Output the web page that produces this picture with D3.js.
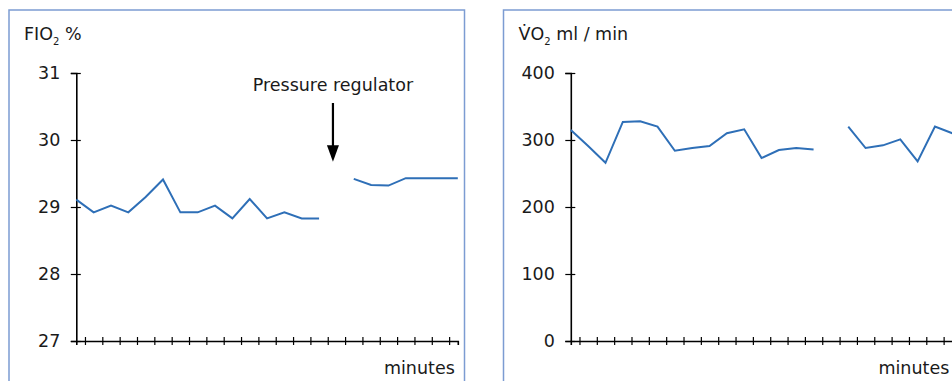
<!DOCTYPE html>
<html>
<head>
<meta charset="utf-8">
<script src="https://cdn.jsdelivr.net/npm/d3@7"></script>
<style>
  html, body { margin: 0; padding: 0; background: #fff; }
  svg { display: block; }
  text { font-family: "DejaVu Sans", sans-serif; fill: #1a1a1a; }
</style>
</head>
<body>
<svg id="chart" width="952" height="381"></svg>
<script>
// Sample index (one reading per minute)
const minutes = [0, 1, 2, 3, 4, 5, 6, 7, 8, 9, 10, 11, 12, 13, 14, 15, 16, 17, 18, 19, 20, 21, 22];

// Inspired oxygen fraction, %; null = no reading while the regulator was switched
const fio2 = [29.11, 28.92, 29.02, 28.92, 29.15, 29.41, 28.92, 28.92, 29.02, 28.83, 29.12, 28.83,
              28.92, 28.83, 28.83, null, 29.42, 29.33, 29.32, 29.43, 29.43, 29.43, 29.43];

// Oxygen consumption, ml/min
const vo2 = [315, 291, 266, 327, 328, 320, 284, 288, 291, 310, 316, 273,
             285, 288, 286, null, 320, 288, 292, 301, 268, 320, 310];

const fio2Ticks = [27, 28, 29, 30, 31];
const vo2Ticks = [0, 100, 200, 300, 400];
const minuteTicks = [0.5, 1.5, 2.5, 3.5, 4.5, 5.5, 6.5, 7.5, 8.5, 9.5, 10.5,
                     11.5, 12.5, 13.5, 14.5, 15.5, 16.5, 17.5, 18.5, 19.5, 20.5, 21.5];

const regulatorMinute = 14.8;
const regulatorLabel = "Pressure regulator";

const svg = d3.select("#chart");
const lineColor = "#2e6fb7";
const frameColor = "#7c9cd2";
const fontSize = 17.5;

// Panel geometry (shared by both charts)
const panelW = 455.5, panelTop = 10;
const plot = { left: 67.3, top: 73, width: 381.5, height: 268 };

function drawPanel(px, cfg) {
  const g = svg.append("g").attr("transform", `translate(${px},0)`);

  g.append("rect")
    .attr("x", 0).attr("y", panelTop)
    .attr("width", panelW).attr("height", 420)
    .attr("fill", "none").attr("stroke", frameColor).attr("stroke-width", 1.5);

  const p = g.append("g").attr("transform", `translate(${plot.left},${plot.top})`);

  const x = d3.scaleLinear().domain([0, 22]).range([0, plot.width]);
  const y = d3.scaleLinear().domain(cfg.yDomain).range([plot.height, 0]);

  // Y axis: ticks cross the axis line
  const yAxis = p.append("g")
    .call(d3.axisLeft(y).tickValues(cfg.yTicks).tickFormat(d3.format("d"))
      .tickSizeOuter(0).tickSize(5.5).tickPadding(10.5));
  yAxis.select(".domain").attr("stroke", "#000").attr("stroke-width", 1.6);
  yAxis.selectAll(".tick line").attr("x2", -5.5).attr("x1", 4.5).attr("stroke", "#000").attr("stroke-width", 1.2);
  yAxis.selectAll(".tick text")
    .style("font-family", '"DejaVu Sans", sans-serif')
    .style("font-size", fontSize + "px").attr("fill", "#1a1a1a");

  // X axis: minute ticks cross the axis line
  const xAxis = p.append("g").attr("transform", `translate(0,${plot.height})`)
    .call(d3.axisBottom(x).tickValues(minuteTicks).tickSizeOuter(0).tickSize(4).tickFormat(""));
  xAxis.select(".domain").attr("stroke", "#000").attr("stroke-width", 1.6);
  xAxis.selectAll(".tick line").attr("y1", -4).attr("y2", 4).attr("stroke", "#000").attr("stroke-width", 1.2);

  p.append("text")
    .attr("x", plot.width - 3).attr("y", plot.height + 33)
    .attr("text-anchor", "end")
    .style("font-size", fontSize + "px")
    .text("minutes");

  // Measurement trace, broken where readings are missing
  const line = d3.line()
    .defined((d, i) => cfg.values[i] != null)
    .x(d => x(d))
    .y((d, i) => y(cfg.values[i]));
  p.append("path")
    .datum(minutes)
    .attr("d", line)
    .attr("fill", "none")
    .attr("stroke", lineColor)
    .attr("stroke-width", 2)
    .attr("stroke-linejoin", "miter");

  // Panel title with subscript
  const t = g.append("text").attr("x", 15).attr("y", 40).style("font-size", fontSize + "px");
  t.append("tspan").text(cfg.titleMain);
  t.append("tspan").attr("dy", 5).style("font-size", "10px").text("2");
  t.append("tspan").attr("dy", -5).text(cfg.titleUnit);

  return { g, p, x, y };
}

const left = drawPanel(9, {
  yDomain: [27, 31], yTicks: fio2Ticks, values: fio2,
  titleMain: "FIO", titleUnit: " %"
});

drawPanel(503.5, {
  yDomain: [0, 400], yTicks: vo2Ticks, values: vo2,
  titleMain: "V\u0307O", titleUnit: " ml / min"
});

// Annotation: pressure regulator switch
const ax = left.x(regulatorMinute);
const arrowTop = 30, arrowTip = 88.7;
left.p.append("line")
  .attr("x1", ax).attr("x2", ax)
  .attr("y1", arrowTop).attr("y2", arrowTip - 14)
  .attr("stroke", "#000").attr("stroke-width", 2.2);
left.p.append("path")
  .attr("d", d3.line()([[ax - 6, arrowTip - 16.5], [ax + 6, arrowTip - 16.5], [ax, arrowTip]]) + "Z")
  .attr("fill", "#000");
left.p.append("text")
  .attr("x", ax).attr("y", arrowTop - 12)
  .attr("text-anchor", "middle")
  .style("font-size", fontSize + "px")
  .text(regulatorLabel);
</script>
</body>
</html>
